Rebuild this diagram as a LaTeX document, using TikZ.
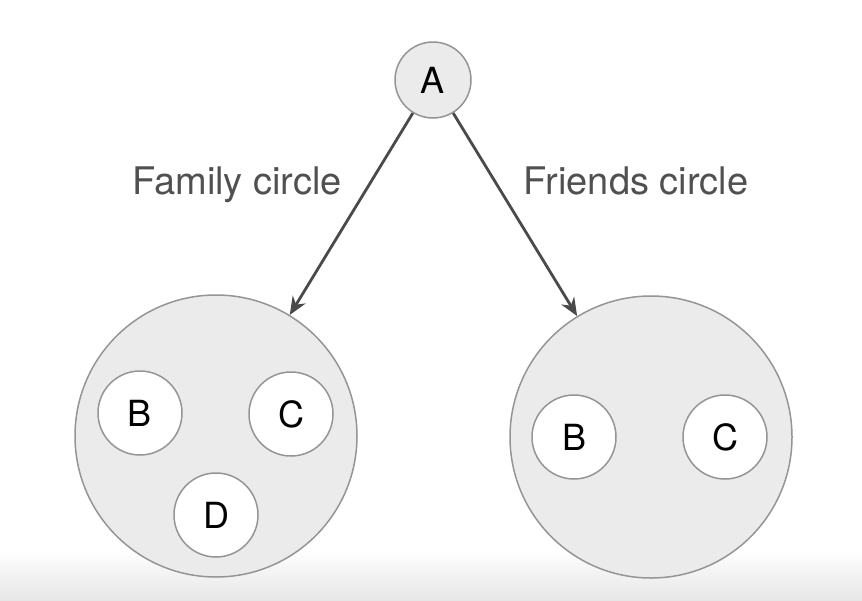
\documentclass[tikz,border=0pt]{standalone}
\usepackage{fontspec}
\setmainfont{TeX Gyre Heros}
\usetikzlibrary{arrows.meta}
\definecolor{cBorder}{HTML}{959595}
\definecolor{cFill}{HTML}{EBEBEB}
\definecolor{cArrow}{HTML}{4A4A4A}
\definecolor{cLabel}{HTML}{505050}
\definecolor{cShade}{HTML}{E6E6E6}

\tikzset{
  group/.style={circle, draw=cBorder, line width=1.5pt, fill=cFill, minimum size=282pt, inner sep=0pt},
  member/.style={circle, draw=cBorder, line width=1.5pt, fill=white, minimum size=84pt, inner sep=0pt,
    font=\fontsize{36}{40}\selectfont},
  link/.style={draw=cArrow, line width=2.8pt, -{Stealth[length=18pt, width=15pt]}},
  tag/.style={text=cLabel, anchor=base, font=\fontsize{38}{44}\selectfont}
}

\begin{document}
\begin{tikzpicture}[x=1pt, y=-1pt]
    % background, with the grey band at the foot
    \fill[white] (0,0) rectangle (862,600);
    \shade[top color=white, bottom color=cShade] (0,550) rectangle (862,600);
    \useasboundingbox (0,0) rectangle (862,600);

    \node[member, fill=cFill, minimum size=76pt] (a) at (433,80) {A};

    % family circle
    \node[group] (family) at (216,436) {};
    \node[member] (famB) at (140,413) {B};
    \node[member] (famC) at (291,414) {C};
    \node[member] (famD) at (216,515) {D};

    % friends circle
    \node[group] (friends) at (651,437) {};
    \node[member] (friB) at (574,437) {B};
    \node[member] (friC) at (725,437) {C};

    \draw[link] (a) -- (family);
    \draw[link] (a) -- (friends);

    \node[tag] (famlabel) at (237,194) {Family circle};
    \node[tag] (frilabel) at (636,194) {Friends circle};
  \end{tikzpicture}
\end{document}
